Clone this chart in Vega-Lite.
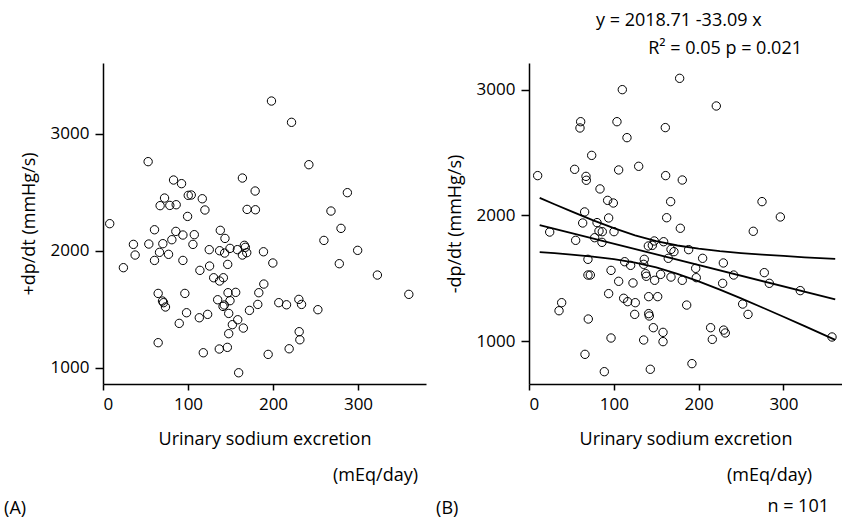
{
  "$schema": "https://vega.github.io/schema/vega-lite/v6.json",
  "padding": {"left": 4, "top": 12, "right": 0, "bottom": 0},
  "spacing": 10,
  "datasets": {
    "left": [
      {"x":7.9,"y":2231},{"x":24,"y":1855},{"x":35.8,"y":2054},{"x":37.8,"y":1963},{"x":53.1,"y":2761},{"x":53.9,"y":2057},{"x":60.6,"y":2179},{"x":60.6,"y":1917},{"x":64.9,"y":1635},{"x":64.9,"y":1214},
      {"x":66.5,"y":1986},{"x":67.2,"y":2385},{"x":70.4,"y":2060},{"x":70,"y":1570},{"x":71.2,"y":1556},{"x":73.5,"y":1519},{"x":72.4,"y":2450},{"x":77.1,"y":1969},{"x":78.6,"y":2387},{"x":81,"y":2094},
      {"x":83,"y":2604},{"x":85.7,"y":2165},{"x":86.1,"y":2393},{"x":89.7,"y":1379},{"x":92.4,"y":2573},{"x":94,"y":2134},{"x":94,"y":1917},{"x":96.3,"y":1635},{"x":98.3,"y":1470},{"x":99.5,"y":2293},
      {"x":100.3,"y":2473},{"x":103.8,"y":2476},{"x":105.8,"y":2054},{"x":107.4,"y":2137},{"x":113.3,"y":1427},{"x":114,"y":1832},{"x":116.8,"y":2444},{"x":118,"y":1128},{"x":119.9,"y":2348},{"x":123.1,"y":1456},
      {"x":125,"y":2009},{"x":125.4,"y":1869},{"x":130.2,"y":1769},{"x":134.9,"y":1581},{"x":136.8,"y":1160},{"x":138,"y":2174},{"x":137.2,"y":2000},{"x":137.2,"y":1741},{"x":141.6,"y":1769},{"x":141.2,"y":1524},
      {"x":143.5,"y":2105},{"x":143.1,"y":1980},{"x":142.7,"y":1536},{"x":146.3,"y":1174},{"x":146.7,"y":1883},{"x":147.1,"y":1641},{"x":147.9,"y":1464},{"x":149.4,"y":2020},{"x":149.4,"y":1573},{"x":147.9,"y":1291},
      {"x":152.2,"y":1368},{"x":156.1,"y":1644},{"x":158.1,"y":2009},{"x":158.5,"y":1410},{"x":159.6,"y":957},{"x":164,"y":2621},{"x":164,"y":1963},{"x":165.1,"y":1339},{"x":166.3,"y":2046},{"x":167.5,"y":2029},
      {"x":169.1,"y":1983},{"x":169.5,"y":2353},{"x":172.3,"y":1490},{"x":179,"y":2510},{"x":179.3,"y":2350},{"x":182.1,"y":1541},{"x":183.3,"y":1641},{"x":188.8,"y":1991},{"x":189.2,"y":1715},{"x":194.3,"y":1114},
      {"x":198.2,"y":3279},{"x":199.8,"y":1895},{"x":206.8,"y":1556},{"x":215.9,"y":1538},{"x":219,"y":1162},{"x":221.8,"y":3097},{"x":230.4,"y":1584},{"x":233.6,"y":1541},{"x":230.8,"y":1308},{"x":231.6,"y":1239},
      {"x":242.2,"y":2735},{"x":252.8,"y":1496},{"x":259.9,"y":2088},{"x":268.2,"y":2339},{"x":278,"y":1889},{"x":280,"y":2191},{"x":287.5,"y":2496},{"x":299.6,"y":2003},{"x":322.8,"y":1792},{"x":359.8,"y":1627}
    ],
    "right": [
      {"x":10.2,"y":2316},{"x":24.4,"y":1867},{"x":35.4,"y":1241},{"x":38.5,"y":1305},{"x":53.8,"y":2366},{"x":55,"y":1801},{"x":60.9,"y":2745},{"x":60.1,"y":2695},{"x":63.3,"y":1939},{"x":65.6,"y":2027},
      {"x":66,"y":894},{"x":67.2,"y":2310},{"x":67.6,"y":2279},{"x":69.5,"y":1650},{"x":69.5,"y":1525},{"x":72.3,"y":1525},{"x":69.9,"y":1175},{"x":73.9,"y":2477},{"x":77.4,"y":1822},{"x":80.2,"y":1942},
      {"x":82.5,"y":1875},{"x":83.7,"y":2210},{"x":86,"y":1785},{"x":86.4,"y":1870},{"x":88.8,"y":756},{"x":92.7,"y":2119},{"x":93.9,"y":1979},{"x":93.9,"y":1377},{"x":96.7,"y":1562},{"x":96.7,"y":1024},
      {"x":99.4,"y":2098},{"x":100.2,"y":1870},{"x":103.7,"y":2745},{"x":105.7,"y":2361},{"x":105.7,"y":1475},{"x":110,"y":3000},{"x":111.6,"y":1340},{"x":112.8,"y":1631},{"x":115.5,"y":2618},{"x":116.3,"y":1313},
      {"x":119.8,"y":1602},{"x":122.6,"y":1462},{"x":125.3,"y":1305},{"x":124.6,"y":1212},{"x":129.3,"y":2390},{"x":135.2,"y":1008},{"x":135.9,"y":1650},{"x":135.2,"y":1610},{"x":137.5,"y":1536},{"x":138.3,"y":1515},
      {"x":140.7,"y":1756},{"x":141.1,"y":1353},{"x":141.1,"y":1218},{"x":141.8,"y":1199},{"x":143,"y":775},{"x":145.4,"y":1761},{"x":147.7,"y":1796},{"x":146.6,"y":1106},{"x":148.1,"y":1483},{"x":151.7,"y":1353},
      {"x":155.2,"y":1530},{"x":158,"y":1069},{"x":158,"y":995},{"x":158.7,"y":1790},{"x":160.7,"y":2698},{"x":161.1,"y":2316},{"x":162.3,"y":1981},{"x":164.2,"y":1658},{"x":167,"y":2109},{"x":167.4,"y":1509},
      {"x":170.9,"y":1711},{"x":167.4,"y":1729},{"x":177.6,"y":3090},{"x":178.4,"y":1897},{"x":180.7,"y":2281},{"x":180.7,"y":1483},{"x":185.9,"y":1286},{"x":188.2,"y":1727},{"x":192.1,"y":820},{"x":196.5,"y":1578},
      {"x":197.2,"y":1504},{"x":204.7,"y":1658},{"x":214.1,"y":1106},{"x":216.1,"y":1013},{"x":220.8,"y":2870},{"x":229.1,"y":1621},{"x":228.3,"y":1459},{"x":229.5,"y":1087},{"x":231.4,"y":1064},{"x":241.3,"y":1525},
      {"x":251.9,"y":1294},{"x":258.2,"y":1212},{"x":264.4,"y":1873},{"x":274.7,"y":2109},{"x":277.4,"y":1544},{"x":283.3,"y":1459},{"x":296.3,"y":1987},{"x":319.8,"y":1401},{"x":357.2,"y":1032}
    ],
    "bands": [
      {"x":12.6,"y":1923,"line":"fit"},{"x":361,"y":1331,"line":"fit"},
      {"x":12.6,"y":2139,"line":"upper"},{"x":30,"y":2088,"line":"upper"},{"x":50,"y":2031,"line":"upper"},{"x":75,"y":1962,"line":"upper"},{"x":100,"y":1898,"line":"upper"},{"x":125,"y":1841,"line":"upper"},{"x":150,"y":1795,"line":"upper"},{"x":175,"y":1760,"line":"upper"},{"x":200,"y":1735,"line":"upper"},{"x":225,"y":1715,"line":"upper"},{"x":250,"y":1700,"line":"upper"},{"x":275,"y":1688,"line":"upper"},{"x":300,"y":1677,"line":"upper"},{"x":325,"y":1666,"line":"upper"},{"x":361,"y":1653,"line":"upper"},
      {"x":12.6,"y":1707,"line":"lower"},{"x":30,"y":1699,"line":"lower"},{"x":50,"y":1688,"line":"lower"},{"x":75,"y":1672,"line":"lower"},{"x":100,"y":1651,"line":"lower"},{"x":125,"y":1623,"line":"lower"},{"x":150,"y":1585,"line":"lower"},{"x":175,"y":1534,"line":"lower"},{"x":200,"y":1475,"line":"lower"},{"x":225,"y":1409,"line":"lower"},{"x":250,"y":1339,"line":"lower"},{"x":275,"y":1267,"line":"lower"},{"x":300,"y":1193,"line":"lower"},{"x":325,"y":1118,"line":"lower"},{"x":361,"y":1009,"line":"lower"}
    ]
  },
  "title": {"text": "n = 101", "orient": "bottom", "anchor": "end", "frame": "bounds", "offset": -20, "dx": -13},
  "hconcat": [
    {
      "title": {"text": "(A)", "orient": "bottom", "anchor": "start", "frame": "bounds", "offset": 15, "dx": -16},
      "vconcat": [
        {
          "width": 323,
          "height": 321,
          "title": {"text": "(mEq/day)", "orient": "bottom", "anchor": "end", "frame": "group", "offset": 19, "dx": -8},
          "data": {"name": "left"},
          "mark": {"type": "point", "shape": "circle", "filled": false, "size": 70, "stroke": "black", "strokeWidth": 1, "opacity": 1},
          "encoding": {
            "x": {"field": "x", "type": "quantitative", "scale": {"domain": [0, 380], "nice": false, "zero": false}, "axis": {"values": [0, 100, 200, 300], "format": "d", "title": "Urinary sodium excretion"}},
            "y": {"field": "y", "type": "quantitative", "scale": {"domain": [861, 3604], "nice": false, "zero": false}, "axis": {"values": [1000, 2000, 3000], "format": "d", "title": "+dp/dt (mmHg/s)"}}
          }
        }
      ]
    },
    {
      "title": {"text": "y = 2018.71 -33.09 x", "orient": "top", "anchor": "start", "frame": "group", "offset": 10, "dx": 67},
      "vconcat": [
        {
          "title": {"text": "(B)", "orient": "bottom", "anchor": "start", "frame": "bounds", "offset": 15, "dx": -10},
          "vconcat": [
            {
              "title": {"text": "(mEq/day)", "orient": "bottom", "anchor": "end", "frame": "bounds", "offset": 19, "dx": -30},
              "vconcat": [
                {
                  "width": 313,
                  "height": 321,
                  "title": {"text": "R² = 0.05 p = 0.021", "orient": "top", "anchor": "end", "frame": "group", "offset": 5, "dx": -40},
                  "layer": [
                    {
                      "data": {"name": "right"},
                      "mark": {"type": "point", "shape": "circle", "filled": false, "size": 70, "stroke": "black", "strokeWidth": 1, "opacity": 1},
                      "encoding": {
                        "x": {"field": "x", "type": "quantitative", "scale": {"domain": [0, 369], "nice": false, "zero": false}, "axis": {"values": [0, 100, 200, 300], "format": "d", "title": "Urinary sodium excretion"}},
                        "y": {"field": "y", "type": "quantitative", "scale": {"domain": [658, 3212], "nice": false, "zero": false}, "axis": {"values": [1000, 2000, 3000], "format": "d", "title": "-dp/dt (mmHg/s)"}}
                      }
                    },
                    {
                      "data": {"name": "bands"},
                      "mark": {"type": "line", "color": "black", "strokeWidth": 1.8},
                      "encoding": {
                        "x": {"field": "x", "type": "quantitative", "scale": {"domain": [0, 369], "nice": false, "zero": false}},
                        "y": {"field": "y", "type": "quantitative", "scale": {"domain": [658, 3212], "nice": false, "zero": false}},
                        "detail": {"field": "line", "type": "nominal"}
                      }
                    }
                  ]
                }
              ]
            }
          ]
        }
      ]
    }
  ],
  "config": {
    "view": {"stroke": null},
    "font": "Open Sans",
    "axis": {"grid": false, "domainColor": "black", "domainWidth": 1.5, "tickColor": "black", "tickWidth": 1.5, "labelFont": "Open Sans", "labelFontSize": 17, "labelColor": "black", "titleFont": "Open Sans", "titleFontSize": 18, "titleFontWeight": "normal", "titleColor": "black"},
    "axisX": {"tickSize": 6, "labelPadding": 6, "titlePadding": 18},
    "axisY": {"tickSize": 8, "labelPadding": 6, "titlePadding": 12},
    "title": {"font": "Open Sans", "fontSize": 18, "fontWeight": "normal", "color": "black"}
  }
}
